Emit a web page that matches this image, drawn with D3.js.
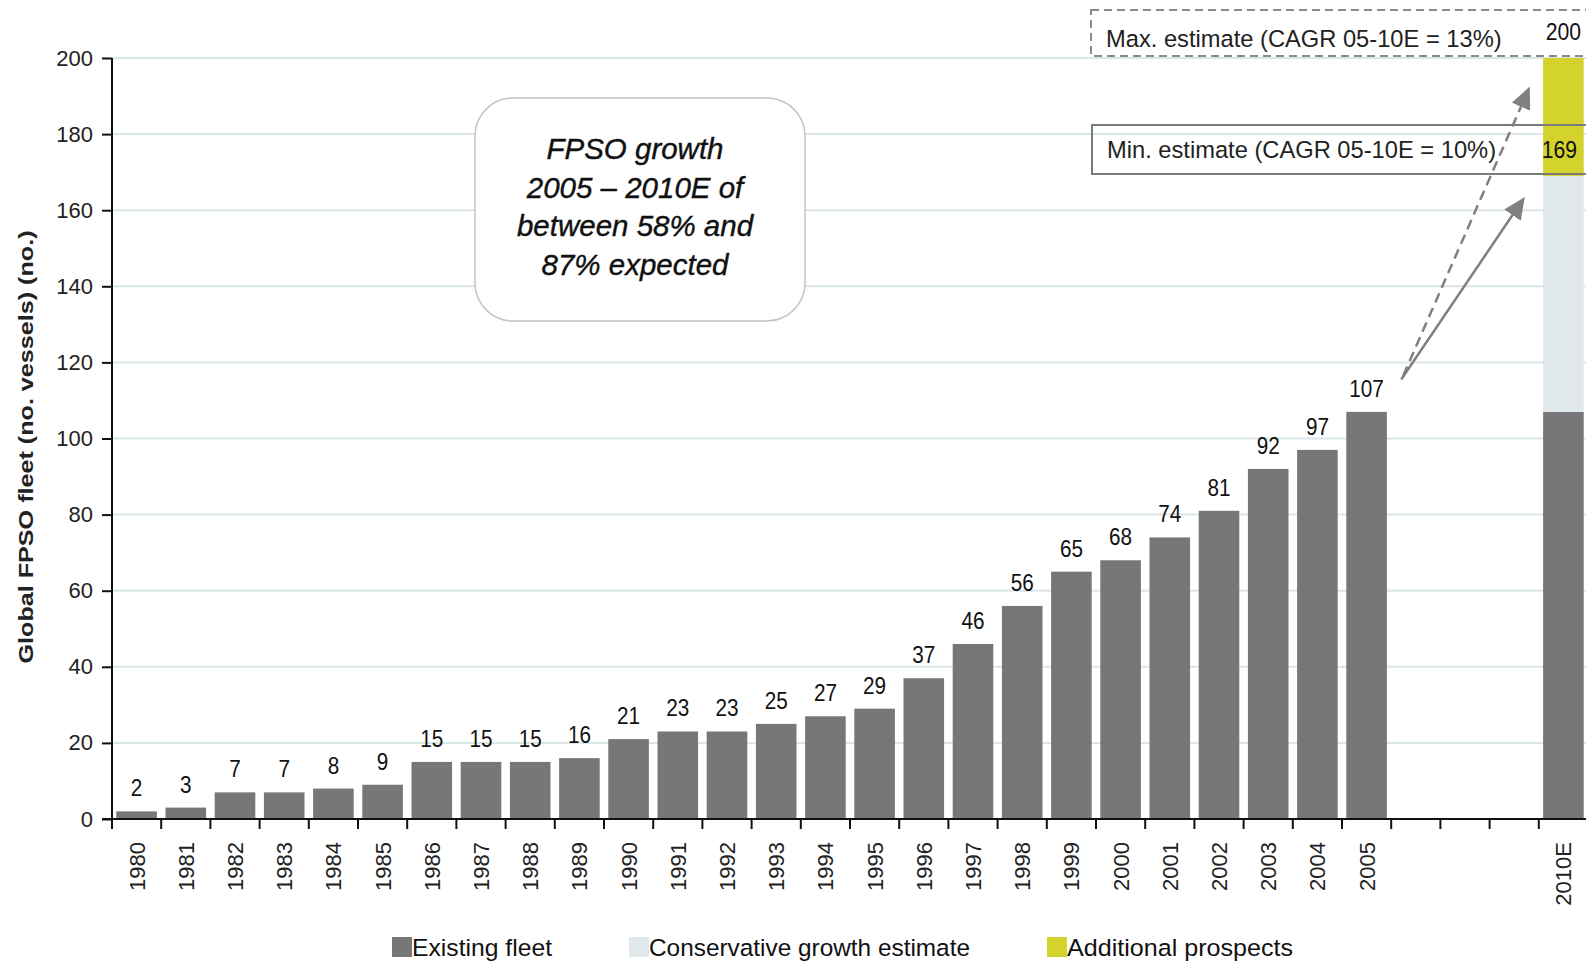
<!DOCTYPE html>
<html>
<head>
<meta charset="utf-8">
<script src="https://cdn.jsdelivr.net/npm/d3@7/dist/d3.min.js"></script>
<style>
  html, body { margin: 0; padding: 0; background: #ffffff; }
  svg { display: block; font-family: "Liberation Sans", Arial, Helvetica, sans-serif; }
</style>
</head>
<body>
<svg id="chart" width="1586" height="961"></svg>
<script>
// ---------------- DATA ----------------
const years = ["1980","1981","1982","1983","1984","1985","1986","1987","1988","1989",
               "1990","1991","1992","1993","1994","1995","1996","1997","1998","1999",
               "2000","2001","2002","2003","2004","2005"];
const existingFleet = [2,3,7,7,8,9,15,15,15,16,21,23,23,25,27,29,37,46,56,65,68,74,81,92,97,107];
const spacerSlots = ["_gap1","_gap2","_gap3"];
const estimateLabel = "2010E";
const estimateExisting = 107;
const estimateMin = 169;   // existing + conservative growth
const estimateMax = 200;   // existing + conservative + additional prospects
const yTicks = [0,20,40,60,80,100,120,140,160,180,200];
const seriesNames = ["Existing fleet","Conservative growth estimate","Additional prospects"];
const boxLines = ["FPSO growth","2005 \u2013 2010E of","between 58% and","87% expected"];
const maxLabel = "Max. estimate (CAGR 05-10E = 13%)";
const minLabel = "Min. estimate (CAGR 05-10E = 10%)";
const yTitle = "Global FPSO fleet (no. vessels) (no.)";

// ---------------- STYLE ----------------
const colors = { existing: "#777777", conservative: "#e1e8eb", additional: "#d4d22c" };
const gridColor = "#dbe6e8";

const svg = d3.select("#chart");
const W = 1586;

function narrow(sel, f) {
  sel.each(function () {
    const len = this.getComputedTextLength();
    if (len > 0) {
      d3.select(this).attr("textLength", len * f).attr("lengthAdjust", "spacingAndGlyphs");
    }
  });
}

const pad = 0.175;
const x = d3.scaleBand()
  .domain([...years, ...spacerSlots, estimateLabel])
  .range([112, 1588])
  .paddingInner(pad)
  .paddingOuter(pad / 2);
const y = d3.scaleLinear().domain([0, 200]).range([819, 58]);
const slotLeft = d => x(d) - x.step() * pad / 2;

// gridlines
svg.append("g").selectAll("line")
  .data(yTicks.filter(t => t > 0))
  .join("line")
  .attr("x1", 112).attr("x2", W)
  .attr("y1", d => y(d)).attr("y2", d => y(d))
  .attr("stroke", gridColor).attr("stroke-width", 2);

// bars: existing fleet
const barData = years.map((yr, i) => ({ cat: yr, v: existingFleet[i] }));
svg.append("g").selectAll("rect")
  .data(barData)
  .join("rect")
  .attr("x", d => x(d.cat))
  .attr("width", x.bandwidth())
  .attr("y", d => y(d.v))
  .attr("height", d => y(0) - y(d.v))
  .attr("fill", colors.existing);

// 2010E stacked bar
const stack = [
  { lo: 0, hi: estimateExisting, c: colors.existing },
  { lo: estimateExisting, hi: estimateMin, c: colors.conservative },
  { lo: estimateMin, hi: estimateMax, c: colors.additional }
];
svg.append("g").selectAll("rect")
  .data(stack)
  .join("rect")
  .attr("x", x(estimateLabel))
  .attr("width", x.bandwidth())
  .attr("y", d => y(d.hi))
  .attr("height", d => y(d.lo) - y(d.hi))
  .attr("fill", d => d.c);

// value labels
svg.append("g").selectAll("text")
  .data(barData)
  .join("text")
  .attr("x", d => x(d.cat) + x.bandwidth() / 2)
  .attr("y", d => y(d.v) - 15)
  .attr("text-anchor", "middle")
  .attr("font-size", 23)
  .attr("fill", "#111")
  .text(d => d.v)
  .call(narrow, 0.9);

[[estimateMax, 0], [estimateMin, -4]].forEach(([v, off]) => {
  svg.append("text")
    .attr("x", x(estimateLabel) + x.bandwidth() / 2 + off)
    .attr("y", y(v) - 18)
    .attr("text-anchor", "middle")
    .attr("font-size", 23)
    .attr("fill", "#111")
    .text(v)
    .call(narrow, 0.92);
});

// Y axis
const yAxis = svg.append("g")
  .attr("transform", "translate(112,0)")
  .call(d3.axisLeft(y).tickValues(yTicks).tickSize(10).tickPadding(9));
yAxis.select(".domain").attr("stroke", "#111").attr("stroke-width", 2)
  .attr("d", `M0,${y(200)}V${y(0)}`);
yAxis.selectAll(".tick line").attr("stroke", "#111").attr("stroke-width", 2);
yAxis.selectAll(".tick text").attr("font-size", 22).attr("fill", "#222")
  .attr("font-family", "Liberation Sans, Arial, sans-serif");

// X axis
const xAxis = svg.append("g")
  .attr("transform", `translate(0,${y(0)})`)
  .call(d3.axisBottom(x).tickSize(0).tickPadding(0)
        .tickFormat(d => d.startsWith("_") ? "" : d));
xAxis.select(".domain").remove();
xAxis.append("line").attr("x1", 102).attr("x2", W).attr("y1", 0).attr("y2", 0)
  .attr("stroke", "#111").attr("stroke-width", 2);
xAxis.selectAll(".tick text")
  .attr("font-size", 22).attr("fill", "#222")
  .attr("font-family", "Liberation Sans, Arial, sans-serif")
  .attr("text-anchor", "end")
  .attr("transform", "rotate(-90)")
  .attr("x", -23).attr("y", 0).attr("dy", "0.36em");
xAxis.append("g").selectAll("line")
  .data(x.domain())
  .join("line")
  .attr("x1", d => slotLeft(d)).attr("x2", d => slotLeft(d))
  .attr("y1", 0).attr("y2", 10)
  .attr("stroke", "#111").attr("stroke-width", 2);

// Y title
svg.append("text")
  .attr("transform", `translate(33,${447}) rotate(-90)`)
  .attr("text-anchor", "middle")
  .attr("font-size", 21)
  .attr("font-weight", "bold")
  .attr("fill", "#222")
  .attr("textLength", 433)
  .attr("lengthAdjust", "spacingAndGlyphs")
  .text(yTitle);

// rounded annotation box
svg.append("rect")
  .attr("x", 475).attr("y", 98).attr("width", 330).attr("height", 223)
  .attr("rx", 38).attr("ry", 38)
  .attr("fill", "#fff").attr("stroke", "#c4c4c4").attr("stroke-width", 1.5);
svg.append("g").selectAll("text")
  .data(boxLines)
  .join("text")
  .attr("x", 635)
  .attr("y", (d, i) => 159 + i * 38.5)
  .attr("text-anchor", "middle")
  .attr("font-size", 29.5)
  .attr("font-style", "italic")
  .attr("fill", "#111")
  .attr("stroke", "#111").attr("stroke-width", 0.4)
  .text(d => d);

// Max / min estimate boxes
svg.append("rect")
  .attr("x", 1091).attr("y", 10).attr("width", 600).attr("height", 46)
  .attr("fill", "none").attr("stroke", "#8a8a8a").attr("stroke-width", 2)
  .attr("stroke-dasharray", "8,5");
svg.append("text").attr("x", 1106).attr("y", 47)
  .attr("font-size", 23.7).attr("fill", "#222").text(maxLabel);

svg.append("rect")
  .attr("x", 1092).attr("y", 125).attr("width", 600).attr("height", 49)
  .attr("fill", "none").attr("stroke", "#7a7a7a").attr("stroke-width", 2);
svg.append("text").attr("x", 1107).attr("y", 158)
  .attr("font-size", 23.7).attr("fill", "#222").text(minLabel);

// arrows
const defs = svg.append("defs");
defs.append("marker")
  .attr("id", "head")
  .attr("markerUnits", "userSpaceOnUse")
  .attr("viewBox", "0 0 22 20")
  .attr("markerWidth", 22).attr("markerHeight", 20)
  .attr("refX", 10).attr("refY", 10)
  .attr("orient", "auto")
  .append("path").attr("d", "M0,0 L22,10 L0,20 Z").attr("fill", "#808080");

function arrow(x1, y1, x2, y2, dashed) {
  const dx = x2 - x1, dy = y2 - y1, L = Math.hypot(dx, dy);
  const ex = x2 - dx / L * 12, ey = y2 - dy / L * 12;
  svg.append("line")
    .attr("x1", x1).attr("y1", y1).attr("x2", ex).attr("y2", ey)
    .attr("stroke", "#808080").attr("stroke-width", 2.5)
    .attr("stroke-dasharray", dashed ? "10,6" : null)
    .attr("marker-end", "url(#head)");
}
const aStart = slotLeft(spacerSlots[0]);
const aEnd = slotLeft(estimateLabel);
arrow(aStart + 10, y(115.5), aEnd - 14, y(163.5), false);
arrow(aStart + 12, y(116.5), aEnd - 9, y(192.5), true);

// legend
const legendItems = [
  { name: seriesNames[0], c: colors.existing, sx: 392, len: 140 },
  { name: seriesNames[1], c: colors.conservative, sx: 629, len: 321 },
  { name: seriesNames[2], c: colors.additional, sx: 1047, len: 226 }
];
const lg = svg.append("g");
legendItems.forEach(it => {
  lg.append("rect").attr("x", it.sx).attr("y", 937).attr("width", 20).attr("height", 20)
    .attr("fill", it.c);
  lg.append("text").attr("x", it.sx + 20).attr("y", 956)
    .attr("font-size", 24.5).attr("fill", "#111")
    .attr("textLength", it.len).attr("lengthAdjust", "spacingAndGlyphs")
    .text(it.name);
});
</script>
</body>
</html>
